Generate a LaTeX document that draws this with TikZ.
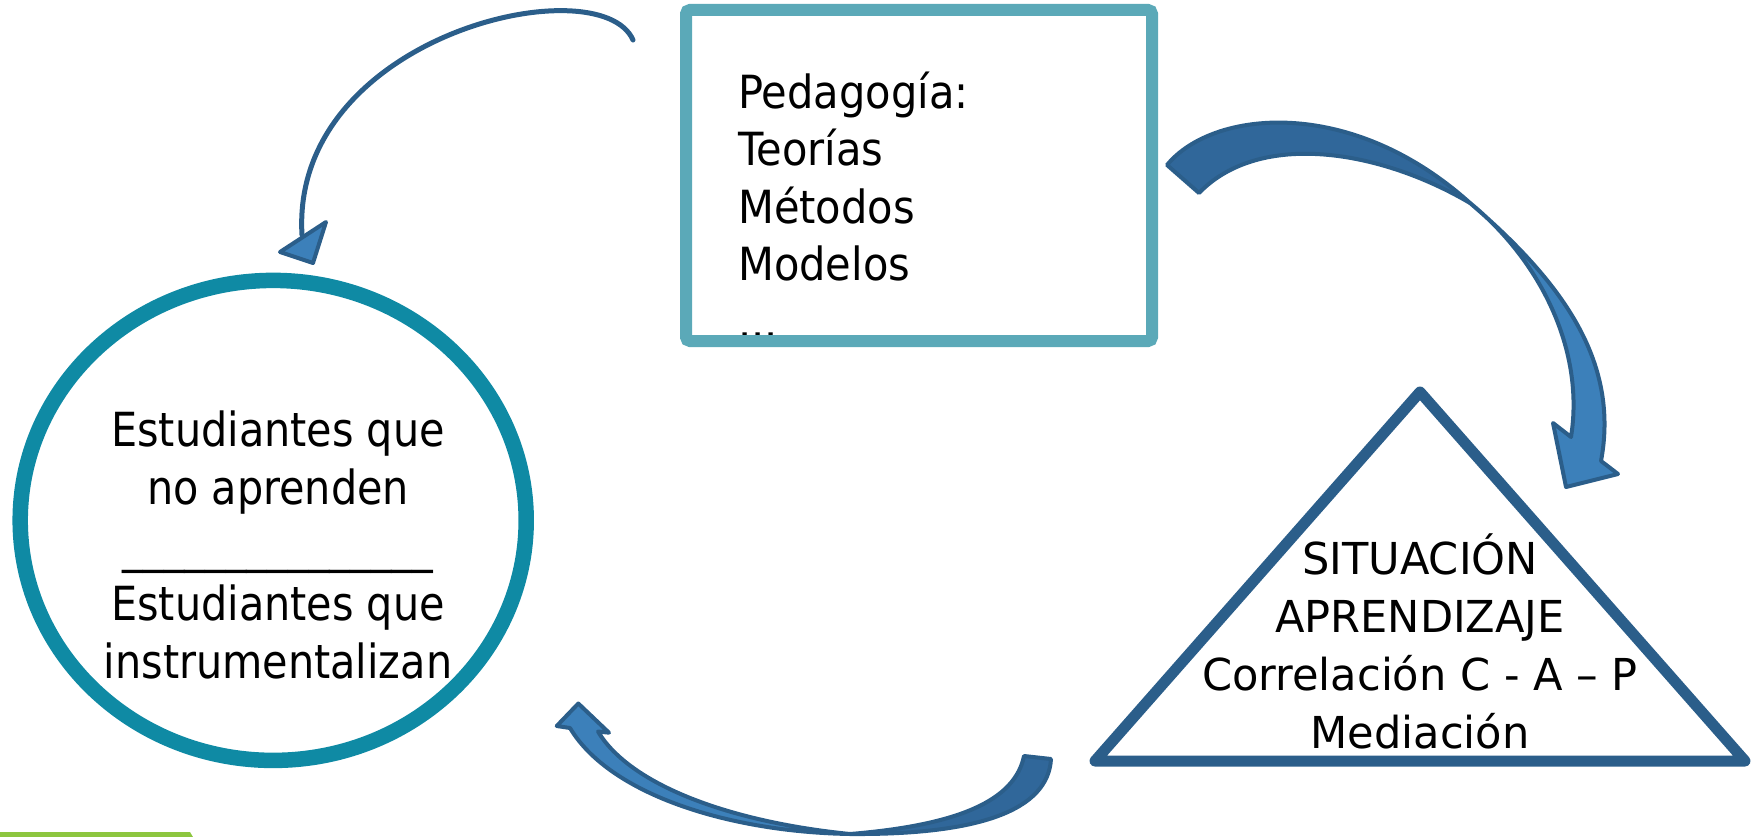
\documentclass[tikz,border=0pt]{standalone}
\usepackage{fontspec}
\setmainfont{DejaVu Sans}
\newfontfamily\boxfont[FakeStretch=0.91]{DejaVu Sans}
\newfontfamily\circfont[FakeStretch=0.88]{DejaVu Sans}
\newfontfamily\trifont[FakeStretch=0.98]{DejaVu Sans}
\usetikzlibrary{shapes.geometric}
\definecolor{circc}{HTML}{0F8AA4}
\definecolor{boxc}{HTML}{5BA9B8}
\definecolor{navy}{HTML}{2B5E8A}
\definecolor{darkfill}{HTML}{30679A}
\definecolor{lightfill}{HTML}{3C80BA}
\definecolor{barc}{HTML}{8DC63F}
\tikzset{
  circshape/.style={ellipse, draw=circc, line width=15.5, minimum width=506, minimum height=480, inner sep=0},
  pedshape/.style={draw=boxc, line width=12, rounded corners=4, minimum width=466, minimum height=331, inner sep=0},
  tri/.style={draw=navy, line width=11, line join=round},
  arrdark/.style={fill=darkfill, draw=navy, line width=4, line join=round},
  arrlight/.style={fill=lightfill, draw=navy, line width=4, line join=round},
  thinarrow/.style={draw=navy, line width=5, line cap=round},
  txt/.style={inner sep=0, text=black}
}
\begin{document}
\begin{tikzpicture}[x=1pt,y=-1pt]
\useasboundingbox (0,0) rectangle (1764,837);

% green bar
\fill[barc] (0,832) -- (190,832) -- (193,837) -- (0,837) -- cycle;

% circle
\node[circshape] (est) at (273.2,520.4) {};
\node[txt, anchor=base, align=center, font=\circfont\fontsize{47}{58}\selectfont] (esttext) at (278,678)
  {Estudiantes que\\no aprenden\\\_\_\_\_\_\_\_\_\_\_\_\_\_\_\_\\Estudiantes que\\instrumentalizan};

% pedagogy box
\node[txt, anchor=base west, align=left, font=\boxfont\fontsize{45.7}{57.5}\selectfont] (pedtext) at (738,338)
  {Pedagogía:\\Teorías\\Métodos\\Modelos\\...};
\node[pedshape] (ped) at (919,175.5) {};

% triangle
\coordinate (tA) at (1420,392);
\coordinate (tL) at (1095,761);
\coordinate (tR) at (1745,761);
\draw[tri] (tA) -- (tL) -- (tR) -- cycle;
\node[txt, anchor=base, align=center, font=\trifont\fontsize{44}{57.7}\selectfont] (tritext) at (1420,748)
  {SITUACIÓN\\APRENDIZAJE\\Correlación C - A – P\\Mediación};

% thin arrow (box -> circle)
\coordinate (tS) at (633,40);
\coordinate (tE) at (302,235);
\coordinate (hA) at (280,252);
\coordinate (hB) at (326,222);
\coordinate (hC) at (313,263);
\draw[thinarrow] (tS) .. controls (600,-35) and (290,35) .. (tE);
\filldraw[arrlight] (hA) -- (hB) -- (hC) -- cycle;

% big arrow (box -> triangle)
\coordinate (rTo) at (1167,165);
\coordinate (rTi) at (1199,193);
\coordinate (rX) at (1470,203);
\coordinate (rOj) at (1601,461);
\coordinate (rFo) at (1618,474);
\coordinate (rTip) at (1566,487);
\coordinate (rFi) at (1553,423);
\coordinate (rIj) at (1571,437);
\filldraw[arrdark] (rTo) .. controls (1212,110) and (1350,95) .. (rX)
   .. controls (1380,150) and (1260,130) .. (rTi) -- cycle;
\filldraw[arrlight] (rX) .. controls (1560,280) and (1620,360) .. (rOj) -- (rFo) -- (rTip) -- (rFi) -- (rIj)
   .. controls (1585,350) and (1540,260) .. (rX) -- cycle;

% bottom arrow (triangle -> circle)
\coordinate (bT0) at (1024,756);
\coordinate (bT1) at (1051,759);
\coordinate (bX) at (850,834);
\coordinate (bOj) at (570,728);
\coordinate (bFo) at (556.7,726);
\coordinate (bTip) at (578.3,703.5);
\coordinate (bFi) at (609,732.7);
\coordinate (bIj) at (598,731.5);
\filldraw[arrdark] (bT1) .. controls (1048,810) and (980,835) .. (bX)
   .. controls (960,825) and (1015,800) .. (bT0) -- cycle;
\filldraw[arrlight] (bX) .. controls (730,832) and (610,795) .. (bOj) -- (bFo) -- (bTip) -- (bFi) -- (bIj)
   .. controls (630,785) and (730,822) .. (bX) -- cycle;
\end{tikzpicture}
\end{document}
